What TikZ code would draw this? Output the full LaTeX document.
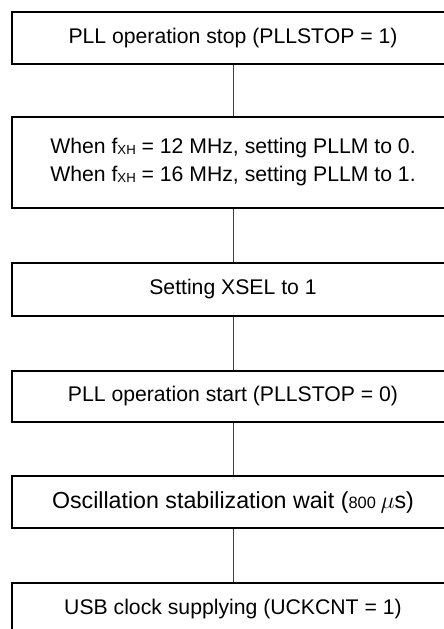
\documentclass[tikz,border=0pt]{standalone}
\usepackage{fontspec}
\setmainfont{Liberation Sans}
\usetikzlibrary{positioning}

\tikzset{
  stepbox/.style={draw, line width=0.65pt, minimum width=221pt, inner sep=0pt, align=center, font=\fontsize{10.6}{14}\selectfont},
  link/.style={line width=0.45pt, black!75}
}
\newcommand{\fxh}{f\raisebox{-0.4pt}{\fontsize{6.6}{7}\selectfont XH}}

\begin{document}
\begin{tikzpicture}[x=0.5pt,y=-0.5pt]
\useasboundingbox (0,0) rectangle (444,629);
\clip (0,0) rectangle (444,629);

\node[stepbox, minimum height=26pt] (stop) at (233,38) {PLL operation stop (PLLSTOP = 1)};
\node[stepbox, minimum height=45.5pt] (pllm) at (233,162.5) {When \fxh{} = 12 MHz, setting PLLM to 0.\\When \fxh{} = 16 MHz, setting PLLM to 1.};
\node[stepbox, minimum height=26.5pt] (xsel) at (233,289.5) {Setting XSEL to 1};
\node[stepbox, minimum height=25.5pt] (start) at (233,396.5) {PLL operation start (PLLSTOP = 0)};
\node[stepbox, minimum height=26pt] (wait) at (233,502) {\fontsize{11.6}{14}\selectfont Oscillation stabilization wait ({\fontsize{8.2}{9}\selectfont 800 }$\mu$s)};
% last box runs off the page
\node[stepbox, minimum height=26pt] (usb) at (233,609) {USB clock supplying (UCKCNT = 1)};

\draw[link] (stop) -- (pllm);
\draw[link] (pllm) -- (xsel);
\draw[link] (xsel) -- (start);
\draw[link] (start) -- (wait);
\draw[link] (wait) -- (usb);
\end{tikzpicture}
\end{document}
